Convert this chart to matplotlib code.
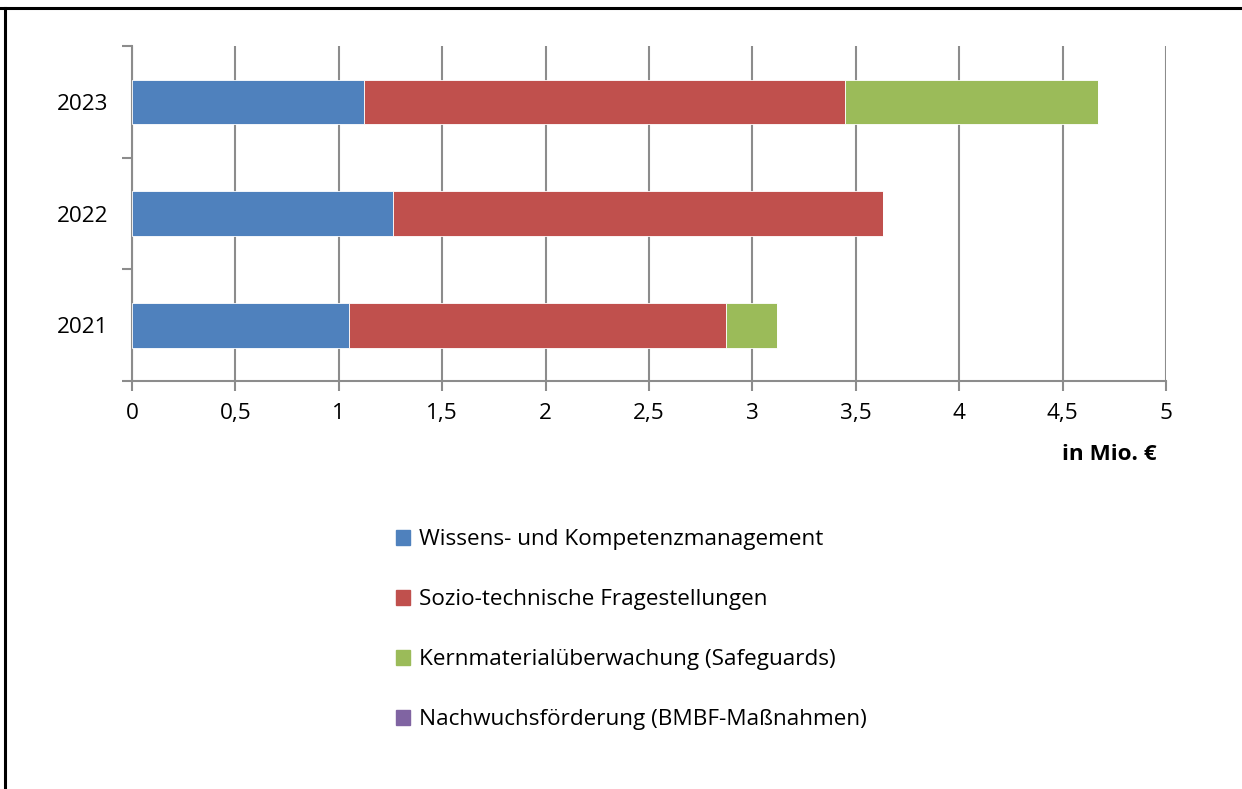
import matplotlib.pyplot as plt
from matplotlib.lines import Line2D
import numpy as np

plt.rcParams['font.family'] = ['Open Sans', 'DejaVu Sans']

years = ['2021', '2022', '2023']
series = ['Wissens- und Kompetenzmanagement',
          'Sozio-technische Fragestellungen',
          'Kernmaterialüberwachung (Safeguards)',
          'Nachwuchsförderung (BMBF-Maßnahmen)']
wissen = [1.05, 1.26, 1.12]
sozio = [1.82, 2.37, 2.33]
kern = [0.25, 0.0, 1.22]
nachwuchs = [0.0, 0.0, 0.0]
colors = ['#4F81BD', '#C0504D', '#9BBB59', '#8064A2']
xticks = [0, 0.5, 1, 1.5, 2, 2.5, 3, 3.5, 4, 4.5, 5]
xlabels = ['0', '0,5', '1', '1,5', '2', '2,5', '3', '3,5', '4', '4,5', '5']

fs = 16.2

fig = plt.figure(figsize=(12.42, 7.89), dpi=100)
ax = fig.add_axes([132 / 1242, 1 - 381 / 789, (1166 - 132) / 1242, (381 - 46) / 789])

y = np.arange(len(years))
left = np.zeros(len(years))
handles = []
for vals, c, name in zip([wissen, sozio, kern, nachwuchs], colors, series):
    ax.barh(y, vals, left=left, height=0.4, color=c, edgecolor='white',
            linewidth=0.6, zorder=3)
    left += np.array(vals)
    handles.append(plt.Rectangle((0, 0), 1, 1, color=c))

ax.set_xlim(0, 5)
ax.set_ylim(-0.5, 2.5)
ax.set_xticks(xticks)
ax.set_xticklabels(xlabels, fontsize=fs)
ax.set_yticks(y)
ax.set_yticklabels(years, fontsize=fs)
ax.set_yticks([-0.5, 0.5, 1.5, 2.5], minor=True)
ax.tick_params(axis='y', which='major', length=0, pad=17)
ax.tick_params(axis='y', which='minor', length=7, width=1.5, color='#8c8c8c')
ax.tick_params(axis='x', length=7, width=1.5, color='#8c8c8c', pad=9)
ax.grid(axis='x', color='#8c8c8c', linewidth=1.5, zorder=0)
ax.set_axisbelow(True)
for s in ['top', 'right']:
    ax.spines[s].set_visible(False)
for s in ['left', 'bottom']:
    ax.spines[s].set_color('#8c8c8c')
    ax.spines[s].set_linewidth(1.5)

fig.text(1157 / 1242, 1 - 455 / 789, 'in Mio. €', fontsize=fs, fontweight='bold',
         ha='right', va='center')

fig.legend(handles, series, loc='upper left', bbox_to_anchor=(376 / 1242, 1 - 509 / 789),
           frameon=False, fontsize=fs, handlelength=0.62, handleheight=0.62,
           handletextpad=0.38, labelspacing=1.735)

fig.add_artist(Line2D([0, 1], [1 - 8 / 789, 1 - 8 / 789], color='black', linewidth=2.2))
fig.add_artist(Line2D([4.5 / 1242, 4.5 / 1242], [0, 1 - 8 / 789], color='black', linewidth=2.2))

fig.savefig('out.png', dpi=100)
